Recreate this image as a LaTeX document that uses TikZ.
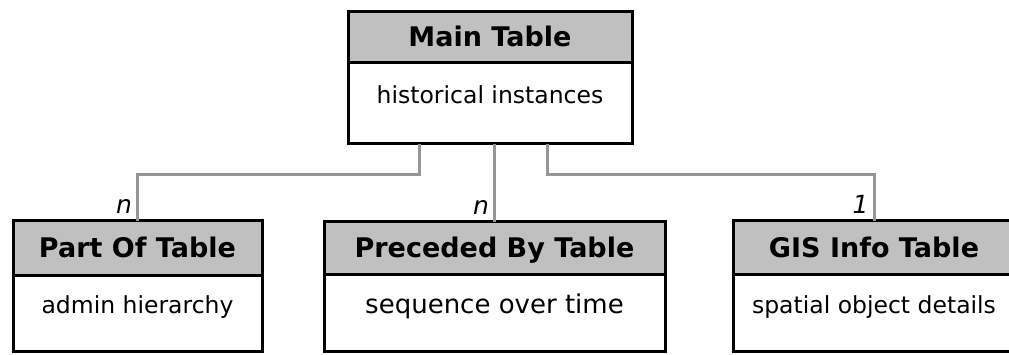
\documentclass[tikz,border=0pt]{standalone}
\usepackage{fontspec}
\setmainfont{DejaVu Sans}
\definecolor{headgray}{RGB}{192,192,192}
\definecolor{linkgray}{RGB}{150,150,150}
\tikzset{
  tablehead/.style={draw=black, line width=3pt, fill=headgray, inner sep=0pt, outer sep=0pt,
    font=\bfseries\fontsize{27}{31}\selectfont, text height=19pt, text depth=0pt},
  tablebody/.style={draw=black, line width=3pt, fill=white, inner sep=0pt, outer sep=0pt,
    font=\fontsize{23.5}{27}\selectfont, text height=0pt, text depth=0pt},
  link/.style={draw=linkgray, line width=3pt},
  card/.style={font=\itshape\fontsize{25}{29}\selectfont, inner xsep=4pt, inner ysep=6pt, anchor=south east}
}
\begin{document}
\begin{tikzpicture}[x=1pt, y=-1pt]
\useasboundingbox (0,0) rectangle (1009,355);
\node [tablehead, minimum width=284pt, minimum height=51pt, anchor=north] (mainhead) at (490,12) {Main Table};
\node [tablebody, minimum width=284pt, minimum height=81pt, anchor=north] (mainbody) at (mainhead.south) {historical instances};
\node [tablehead, minimum width=249pt, minimum height=55pt, anchor=north] (parthead) at (137.5,221) {Part Of Table};
\node [tablebody, minimum width=249pt, minimum height=75pt, anchor=north] (partbody) at (parthead.south) {admin hierarchy};
\node [tablehead, minimum width=341pt, minimum height=53pt, anchor=north] (prechead) at (494.5,222) {Preceded By Table};
\node [tablebody, minimum width=341pt, minimum height=76pt, anchor=north, font=\fontsize{26}{30}\selectfont] (precbody) at (prechead.south) {sequence over time};
\node [tablehead, minimum width=282pt, minimum height=54pt, anchor=north] (gishead) at (874,221) {GIS Info Table};
\node [tablebody, minimum width=282pt, minimum height=76pt, anchor=north] (gisbody) at (gishead.south) {spatial object details};
\draw [link] (mainbody.south -| 419,0) |- (0,174.5 -| parthead.north) -- (parthead.north) node [card] {n};
\draw [link] (mainbody.south -| prechead.north) -- (prechead.north) node [card] {n};
\draw [link] (mainbody.south -| 547,0) |- (0,174.5 -| gishead.north) -- (gishead.north) node [card] {1};
\end{tikzpicture}
\end{document}
